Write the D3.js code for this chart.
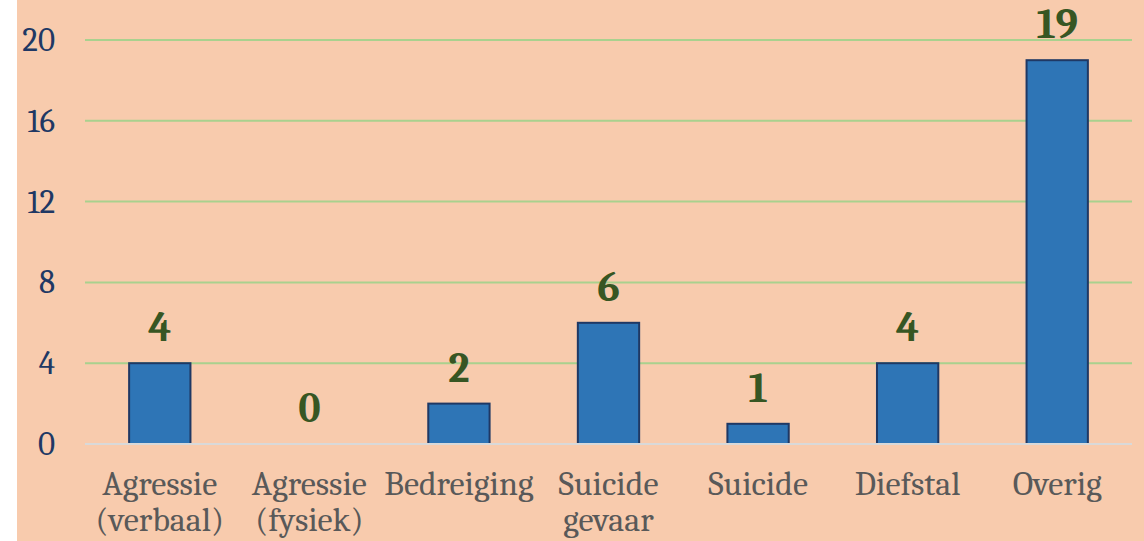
<!DOCTYPE html>
<html>
<head>
<meta charset="utf-8">
<script src="https://cdn.jsdelivr.net/npm/d3@7"></script>
<style>
  body { margin: 0; background: #fff; }
</style>
</head>
<body>
<script>
// chart data
var categories = ["Agressie (verbaal)", "Agressie (fysiek)", "Bedreiging", "Suicide gevaar", "Suicide", "Diefstal", "Overig"];
var labelLines = [["Agressie", "(verbaal)"], ["Agressie", "(fysiek)"], ["Bedreiging"], ["Suicide", "gevaar"], ["Suicide"], ["Diefstal"], ["Overig"]];
var values = [4, 0, 2, 6, 1, 4, 19];
var yTicks = [0, 4, 8, 12, 16, 20];

var width = 1144, height = 541;
var serif = "Cambria, Caladea, 'Liberation Serif', 'DejaVu Serif', serif";

var svg = d3.select("body").append("svg")
  .attr("width", width).attr("height", height);

// peach panel
svg.append("rect")
  .attr("x", 17).attr("y", 0)
  .attr("width", width - 17).attr("height", height)
  .attr("fill", "#F8CBAD");

var x = d3.scaleBand()
  .domain(categories)
  .range([85, 1132])
  .paddingInner(0.59)
  .paddingOuter(0.295);

var y = d3.scaleLinear()
  .domain([0, 20])
  .range([444, 40]);

// gridlines
svg.append("g").selectAll("line")
  .data(yTicks.filter(function(d){ return d > 0; }))
  .enter().append("line")
  .attr("x1", 85).attr("x2", 1132)
  .attr("y1", function(d){ return y(d); })
  .attr("y2", function(d){ return y(d); })
  .attr("stroke", "#A9D18E")
  .attr("stroke-width", 2);

// y axis labels
var yAxis = d3.axisLeft(y).tickValues(yTicks).tickSize(0).tickPadding(0);
var yg = svg.append("g")
  .attr("transform", "translate(55,0)")
  .call(yAxis);
yg.select(".domain").remove();
yg.selectAll("text")
  .attr("font-family", serif)
  .attr("font-size", 33)
  .attr("fill", "#203864");

// bars
svg.append("g").selectAll("rect")
  .data(values)
  .enter().append("rect")
  .attr("x", function(d, i){ return x(categories[i]); })
  .attr("y", function(d){ return y(d); })
  .attr("width", x.bandwidth())
  .attr("height", function(d){ return y(0) - y(d); })
  .attr("fill", "#2E75B6")
  .attr("stroke", "#1F3864")
  .attr("stroke-width", 2);

// baseline
svg.append("line")
  .attr("x1", 85).attr("x2", 1132)
  .attr("y1", y(0)).attr("y2", y(0))
  .attr("stroke", "#D9D9D9")
  .attr("stroke-width", 2);

// value labels
svg.append("g").selectAll("text")
  .data(values)
  .enter().append("text")
  .attr("x", function(d, i){ return x(categories[i]) + x.bandwidth() / 2; })
  .attr("y", function(d){ return y(d) - 22; })
  .attr("text-anchor", "middle")
  .attr("font-family", serif)
  .attr("font-weight", "bold")
  .attr("font-size", 42)
  .attr("fill", "#375623")
  .text(function(d){ return d; });

// category labels
var xl = svg.append("g").selectAll("text")
  .data(categories)
  .enter().append("text")
  .attr("x", function(d){ return x(d) + x.bandwidth() / 2; })
  .attr("y", 495)
  .attr("text-anchor", "middle")
  .attr("font-family", serif)
  .attr("font-size", 34)
  .attr("fill", "#595959");
xl.selectAll("tspan")
  .data(function(d, i){ return labelLines[i]; })
  .enter().append("tspan")
  .attr("x", function(){ return d3.select(this.parentNode).attr("x"); })
  .attr("dy", function(d, i){ return i === 0 ? 0 : 36; })
  .text(function(d){ return d; });
</script>
</body>
</html>
